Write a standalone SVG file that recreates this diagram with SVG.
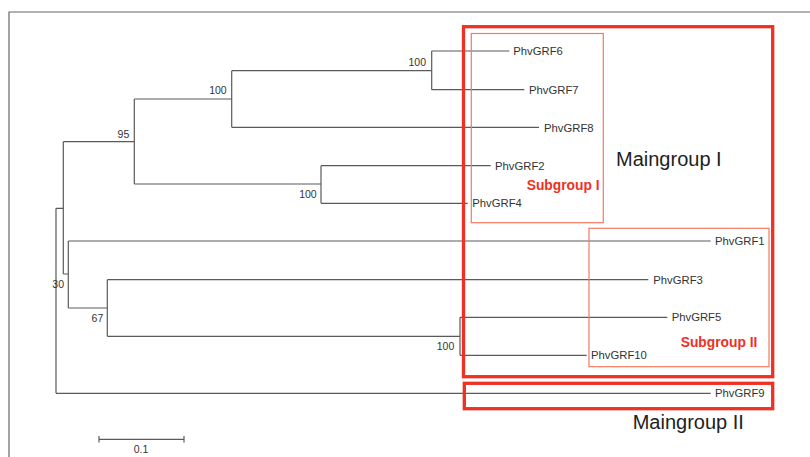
<svg xmlns="http://www.w3.org/2000/svg" width="810" height="457" viewBox="0 0 810 457">
<style>
.br{fill:none;stroke:#5a5a5a;stroke-width:1.2}
.leaf{font-family:"Liberation Sans",Arial,sans-serif;font-size:11.3px;fill:#333}
.bs{font-family:"Liberation Sans",Arial,sans-serif;font-size:10.5px;fill:#333}
.main{fill:none;stroke:#ee3124;stroke-width:3.3}
.sub{fill:none;stroke:#f47a60;stroke-width:1.2}
.sublbl{font-family:"Liberation Sans",Arial,sans-serif;font-size:13.8px;font-weight:bold;fill:#ee3124}
.mainlbl{font-family:"Liberation Sans",Arial,sans-serif;font-size:20px;fill:#222}
</style>
<rect width="810" height="457" fill="#fff"/>
<path d="M9,457 V12 H810" fill="none" stroke="#666" stroke-width="1.2"/>
<g id="connectors">
<!-- root -->
<path class="br" d="M56,208.3 V393.3 M56,208.3 H63.3 M56,393.3 H710.7"/>
<!-- node 30 region -->
<path class="br" d="M63.3,141.7 V274 M63.3,141.7 H134.3 M63.3,274 H68.3"/>
<!-- node 95 -->
<path class="br" d="M134.3,99 V184 M134.3,99 H231.7 M134.3,184 H321"/>
<!-- node 100 (6,7,8) -->
<path class="br" d="M231.7,70.7 V127.3 M231.7,70.7 H431.7 M231.7,127.3 H539"/>
<!-- node 100 (6,7) -->
<path class="br" d="M431.7,51 V89.7 M431.7,51 H509.3 M431.7,89.7 H524.3"/>
<!-- node 100 (2,4) -->
<path class="br" d="M321,165.7 V203.3 M321,165.7 H490.7 M321,203.3 H467.7"/>
<!-- node (1, 67) -->
<path class="br" d="M68.3,241 V308 M68.3,241 H710.7 M68.3,308 H107.3"/>
<!-- node 67 -->
<path class="br" d="M107.3,279.7 V336.3 M107.3,279.7 H648.3 M107.3,336.3 H460"/>
<!-- node 100 (5,10) -->
<path class="br" d="M460,317.3 V355.3 M460,317.3 H667.3 M460,355.3 H586.7"/>
<!-- scale bar -->
<path class="br" d="M99,439.3 H184 M99,436 V442.6 M184,436 V442.6"/>
</g>
<g id="bootstrap">
<text class="bs" x="426" y="66" text-anchor="end">100</text>
<text class="bs" x="226.7" y="94.3" text-anchor="end">100</text>
<text class="bs" x="129.3" y="137.7" text-anchor="end">95</text>
<text class="bs" x="316.7" y="197.7" text-anchor="end">100</text>
<text class="bs" x="64" y="288.3" text-anchor="end">30</text>
<text class="bs" x="103.3" y="321.7" text-anchor="end">67</text>
<text class="bs" x="454.3" y="350" text-anchor="end">100</text>
<text class="bs" x="141" y="453.3" text-anchor="middle">0.1</text>
</g>
<g id="leaves">
<text class="leaf" x="513.3" y="55">PhvGRF6</text>
<text class="leaf" x="529" y="93.7">PhvGRF7</text>
<text class="leaf" x="544" y="132">PhvGRF8</text>
<text class="leaf" x="495" y="169.7">PhvGRF2</text>
<text class="leaf" x="472.3" y="207.3">PhvGRF4</text>
<text class="leaf" x="715" y="245">PhvGRF1</text>
<text class="leaf" x="653.3" y="283.7">PhvGRF3</text>
<text class="leaf" x="671.7" y="321.3">PhvGRF5</text>
<text class="leaf" x="591" y="359.3">PhvGRF10</text>
<text class="leaf" x="715" y="397.3">PhvGRF9</text>
</g>
<g id="maingroup1">
<rect class="main" x="463.5" y="26.7" width="309.2" height="350"/>
<text class="mainlbl" x="616" y="165.7">Maingroup I</text>
</g>
<g id="subgroup1">
<rect class="sub" x="471.3" y="33.5" width="132" height="189.2"/>
<text class="sublbl" x="526.7" y="190">Subgroup I</text>
</g>
<g id="subgroup2">
<rect class="sub" x="589" y="228.3" width="180" height="138.4"/>
<text class="sublbl" x="680.7" y="347.3">Subgroup II</text>
</g>
<g id="maingroup2">
<rect class="main" x="464.3" y="383.3" width="308.4" height="25.4"/>
<text class="mainlbl" x="632.7" y="429">Maingroup II</text>
</g>
</svg>
